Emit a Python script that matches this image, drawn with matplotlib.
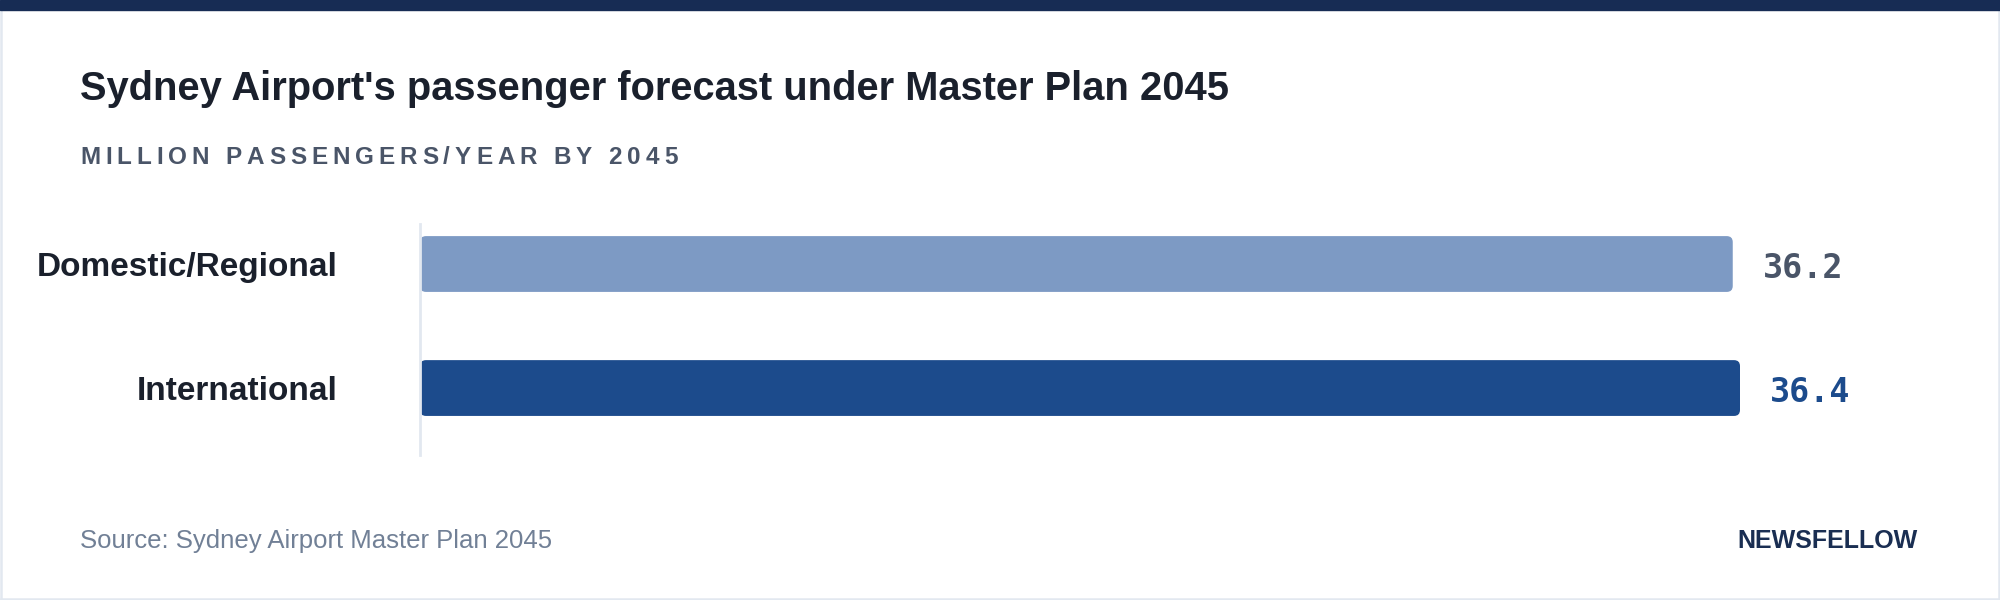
import matplotlib
matplotlib.use("Agg")
import matplotlib.pyplot as plt
from matplotlib.patches import Rectangle, FancyBboxPatch
from matplotlib.lines import Line2D

plt.rcParams['font.family'] = ['Liberation Sans', 'DejaVu Sans']

# data
categories = ["Domestic/Regional", "International"]
values = [36.2, 36.4]
bar_colors = ["#7d9ac4", "#1c4b8c"]
label_colors = ["#4a5568", "#1c4b8c"]

title = "Sydney Airport's passenger forecast under Master Plan 2045"
subtitle = "MILLION PASSENGERS/YEAR BY 2045"
source = "Source: Sydney Airport Master Plan 2045"
brand = "NEWSFELLOW"

W, H = 2000, 600
fig = plt.figure(figsize=(20, 6), dpi=100)
fig.patch.set_facecolor("white")


def fx(px):
    return px / W


def fy(py):
    return 1 - py / H


# top band + thin frame
fig.add_artist(Rectangle((0, fy(10)), 1, 10 / H, transform=fig.transFigure,
                         color="#172c54", zorder=5))
frame = dict(transform=fig.transFigure, color="#e2e8f0", lw=1.8)
fig.add_artist(Line2D([fx(1), fx(1)], [fy(10), fy(599)], **frame))
fig.add_artist(Line2D([fx(1999), fx(1999)], [fy(10), fy(599)], **frame))
fig.add_artist(Line2D([fx(1), fx(1999)], [fy(599), fy(599)], **frame))

# titles
fig.text(fx(80), fy(100), title, fontsize=28.7, fontweight="bold",
         color="#1a202c", va="baseline")

# letter-spaced subtitle, one glyph at a time
renderer = fig.canvas.get_renderer()
x = 80
for ch in subtitle:
    t = fig.text(fx(x), fy(164), ch, fontsize=17.5, fontweight="bold",
                 color="#4a5568", va="baseline")
    w = t.get_window_extent(renderer).width if ch != " " else 17.5 * 0.278 / 0.72
    x += w + 4.9

# axes
ax = fig.add_axes([fx(420), fy(455), 1320 / W, 231 / H])
ypos = list(range(len(categories)))
bars = ax.barh(ypos, values, height=0.45, color=bar_colors)
ax.set_xlim(0, max(values))
ax.set_ylim(1.54, -0.3226)

# rounded corners
x_ppu = 1320 / max(values)
y_ppu = 231 / (1.54 + 0.3226)
for b in bars:
    x0, y0, w, h = b.get_x(), b.get_y(), b.get_width(), b.get_height()
    fc = b.get_facecolor()
    b.remove()
    ax.add_patch(FancyBboxPatch((x0, y0), w, h,
                                boxstyle=f"round,pad=0,rounding_size={6 / x_ppu}",
                                mutation_aspect=x_ppu / y_ppu,
                                fc=fc, ec="none", zorder=1))

for i, v in enumerate(values):
    ax.annotate(f"{v:.1f}", xy=(v, i), xytext=(30 * 0.72, -3),
                textcoords="offset points", ha="left", va="center",
                fontsize=24, fontweight="bold", family="DejaVu Sans Mono",
                color=label_colors[i], annotation_clip=False)

for s in ["top", "right", "bottom"]:
    ax.spines[s].set_visible(False)
ax.spines["left"].set_color("#e2e8f0")
ax.spines["left"].set_linewidth(2.0)
ax.set_xticks([])
ax.set_yticks(ypos, labels=categories)
ax.tick_params(axis="y", length=0, pad=82 * 0.72, labelsize=24, labelcolor="#1a202c")
for lab in ax.get_yticklabels():
    lab.set_fontweight("bold")

# footer
fig.text(fx(80), fy(548), source, fontsize=18.5, color="#718096", va="baseline")
fig.text(fx(1918), fy(548), brand, fontsize=18, fontweight="bold",
         color="#1a2e52", va="baseline", ha="right")

fig.savefig("out.png", dpi=100, facecolor="white")
